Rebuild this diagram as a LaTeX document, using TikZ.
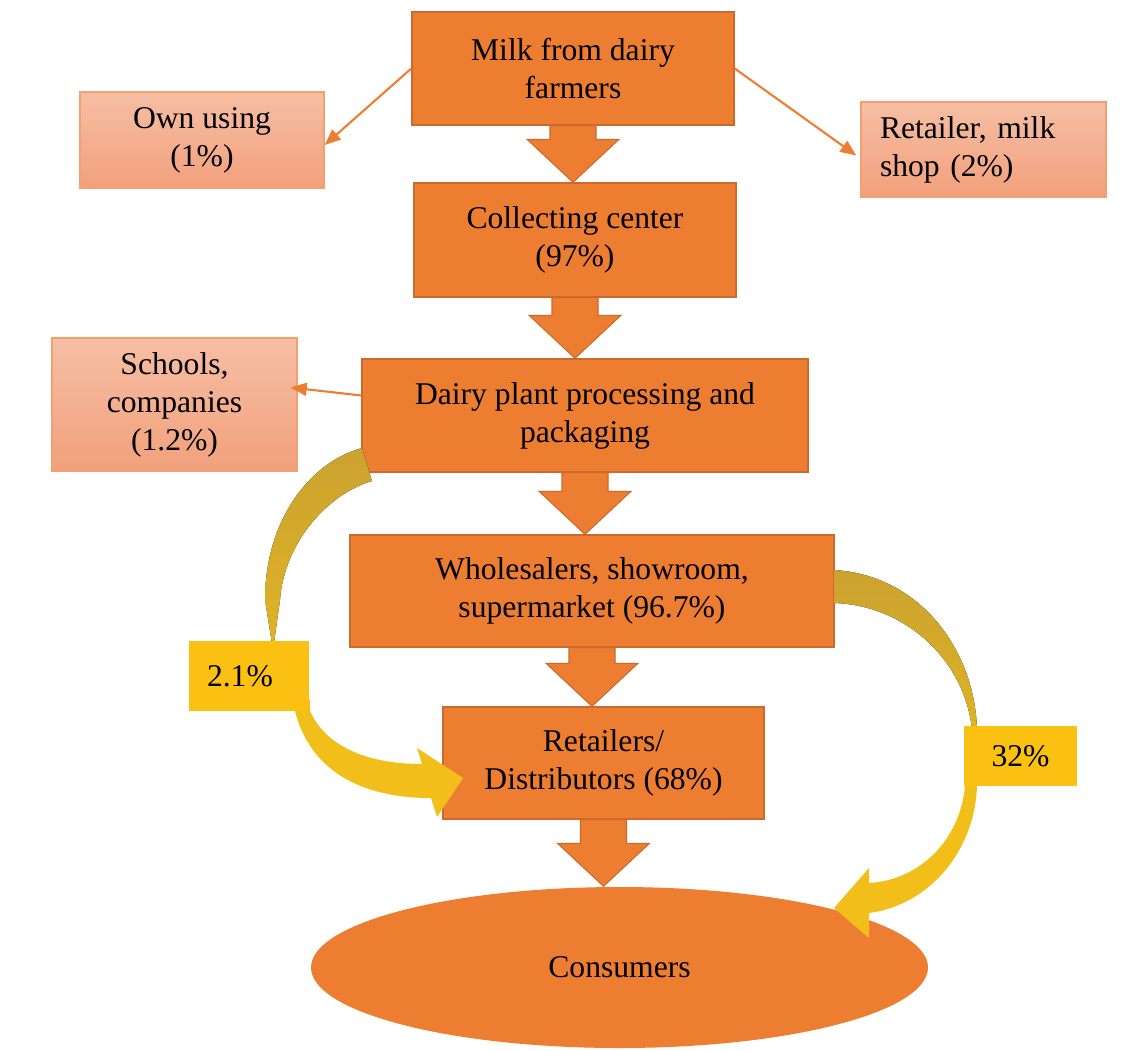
\documentclass[tikz,border=0pt]{standalone}
\usepackage{fontspec}
\setmainfont{Liberation Serif}
\usetikzlibrary{arrows.meta,calc,shapes.geometric}

\definecolor{boxorange}{RGB}{237,125,49}
\definecolor{boxedge}{RGB}{205,105,45}
\definecolor{salmontop}{RGB}{246,190,164}
\definecolor{salmonbot}{RGB}{242,160,124}
\definecolor{salmonedge}{RGB}{244,160,110}
\definecolor{swooshdark}{RGB}{203,162,48}
\definecolor{swooshmid}{RGB}{224,180,36}
\definecolor{swooshlight}{RGB}{242,190,26}
\definecolor{tagyellow}{RGB}{250,192,18}

% fat arrow from the bottom of one box to the top of the next
\newcommand{\blockarrow}[2]{%
  \fill[boxorange, draw=boxedge, line width=0.3pt] let \p1=(#1.south), \p2=(#2.north) in
    ({\x1-2.3mm},\y1) -- ({\x1-2.3mm},{\y2+4.3mm}) -- ({\x1-4.6mm},{\y2+4.3mm}) -- (\x1,\y2)
    -- ({\x1+4.6mm},{\y2+4.3mm}) -- ({\x1+2.3mm},{\y2+4.3mm}) -- ({\x1+2.3mm},\y1) -- cycle;}

\begin{document}
\begin{tikzpicture}[
    mainbox/.style={rectangle, fill=boxorange, draw=boxedge, line width=0.4pt, align=center,
      inner sep=0pt, font=\fontsize{9}{10.8}\selectfont},
    sidebox/.style={rectangle, top color=salmontop, bottom color=salmonbot, draw=salmonedge,
      line width=0.4pt, align=center, inner sep=0pt, font=\fontsize{9}{10.8}\selectfont},
    tagbox/.style={rectangle, fill=tagyellow, inner sep=0pt, font=\fontsize{9}{10.8}\selectfont},
    thinarrow/.style={draw=boxorange, line width=0.6pt, -{Triangle[length=1.6mm,width=1.3mm]}}
  ]

    \useasboundingbox (0,0) rectangle (11.43,-10.5);

    % Main chain
    \node[mainbox, minimum width=3.22cm, minimum height=1.13cm] (milk) at (5.73,-0.685) {Milk from dairy\\farmers};
    \node[mainbox, minimum width=3.22cm, minimum height=1.14cm] (collect) at (5.75,-2.40) {Collecting center\\(97\%)};
    \node[mainbox, minimum width=4.46cm, minimum height=1.13cm] (dairy) at (5.85,-4.155) {Dairy plant processing and\\packaging};
    \node[mainbox, minimum width=4.84cm, minimum height=1.12cm] (whole) at (5.92,-5.91) {Wholesalers, showroom,\\supermarket (96.7\%)};
    \node[mainbox, minimum width=3.21cm, minimum height=1.12cm] (retail) at (6.035,-7.63) {Retailers/\\Distributors (68\%)};
    \node[ellipse, fill=boxorange, inner sep=0pt, minimum width=6.17cm, minimum height=1.61cm,
      font=\fontsize{9}{10.8}\selectfont] (consumers) at (6.195,-9.675) {Consumers};

    % Side outlets
    \node[sidebox, minimum width=2.44cm, minimum height=0.96cm] (own) at (2.02,-1.40) {Own using\\(1\%)};
    \node[sidebox, align=left, text width=2.07cm, inner xsep=1.9mm, minimum height=0.95cm] (shop) at (9.835,-1.495) {Retailer, milk\\shop (2\%)};
    \node[sidebox, minimum width=2.45cm, minimum height=1.33cm] (schools) at (1.745,-4.045) {Schools,\\companies\\(1.2\%)};

    % Fat arrows
    \blockarrow{milk}{collect}
    \blockarrow{collect}{dairy}
    \blockarrow{dairy}{whole}
    \blockarrow{whole}{retail}
    \blockarrow{retail}{consumers}

    % Thin arrows
    \draw[thinarrow] (milk.west) -- ([yshift=-0.5mm]own.east);
    \draw[thinarrow] (milk.east) -- ([xshift=-0.4mm,yshift=-0.6mm]shop.west);
    \draw[thinarrow] ([yshift=2mm]dairy.west) -- ([xshift=-0.7mm,yshift=1.7mm]schools.east);

    % Left swoosh
    \fill[top color=swooshdark, bottom color=swooshmid] (3.62,-4.48) .. controls (3.10,-4.62) and (2.65,-5.20) .. (2.65,-6.00)
      -- (2.73,-6.50) -- (2.80,-6.00) .. controls (2.84,-5.45) and (3.25,-4.95) .. (3.72,-4.81) -- cycle;
    \fill[swooshlight] (2.95,-7.00) -- (2.95,-7.11) .. controls (3.10,-7.70) and (3.60,-7.98) .. (4.31,-7.98)
      -- (4.37,-8.17) -- (4.63,-7.78) -- (4.17,-7.48) -- (4.22,-7.64)
      .. controls (3.65,-7.64) and (3.25,-7.45) .. (3.10,-7.11) -- (3.10,-7.00) -- cycle;

    % Right swoosh
    \fill[top color=swooshdark, bottom color=swooshmid] (8.34,-5.70) .. controls (9.20,-5.75) and (9.75,-6.50) .. (9.77,-7.30)
      -- (9.74,-7.45) -- (9.72,-7.30) .. controls (9.65,-6.60) and (9.05,-6.05) .. (8.34,-6.03) -- cycle;
    \fill[swooshlight] (9.77,-7.80) -- (9.77,-7.86) .. controls (9.75,-8.50) and (9.30,-9.05) .. (8.69,-9.13)
      -- (8.69,-9.38) -- (8.34,-9.08) -- (8.69,-8.68) -- (8.69,-8.83)
      .. controls (9.20,-8.80) and (9.60,-8.40) .. (9.65,-7.86) -- (9.65,-7.80) -- cycle;

    % Share labels
    \node[tagbox, align=left, text width=0.84cm, inner xsep=1.8mm, minimum height=0.70cm] (share21) at (2.49,-6.76) {2.1\%};
    \node[tagbox, align=center, minimum width=1.13cm, minimum height=0.60cm] (share32) at (10.205,-7.56) {32\%};

\end{tikzpicture}
\end{document}
